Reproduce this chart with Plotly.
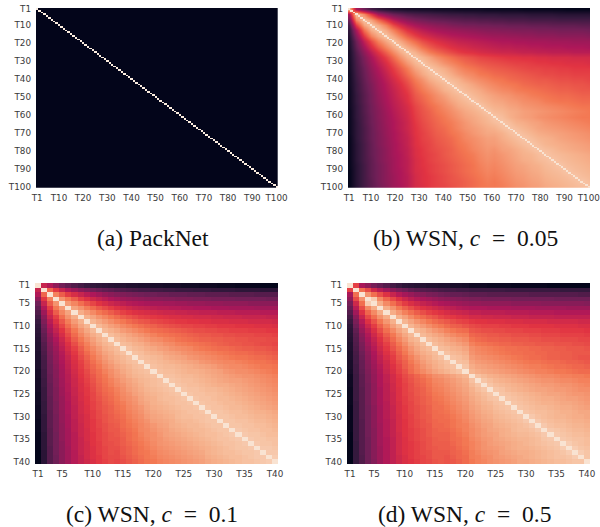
import plotly.graph_objects as go

W, H = 600, 527
ROCKET = [[0, "#03051a"], [1/7, "#35193e"], [2/7, "#701f57"], [3/7, "#ad1759"],
          [4/7, "#e13342"], [5/7, "#f37651"], [6/7, "#f6b48f"], [1, "#faebdd"]]
DIAG = 98

tasks_a = list(range(1, 101))
ticks_100 = [1, 10, 20, 30, 40, 50, 60, 70, 80, 90, 100]
tasks_40 = list(range(1, 41))
ticks_40 = [1, 5, 10, 15, 20, 25, 30, 35, 40]
tasks_b = list(range(1, 101, 3))

SP = "&nbsp;&nbsp;"
captions = ["(a) PackNet", f"(b) WSN, <i>c</i>{SP}={SP}0.05", f"(c) WSN, <i>c</i>{SP}={SP}0.1", f"(d) WSN, <i>c</i>{SP}={SP}0.5"]

# panel (b): overlap below the diagonal, one list per sampled task (T1, T4, ... T97)
b_cols = [
 [42,28,18,13,10,8,7,6,6,5,5,4,4,4,3,3,3,3,2,2,2,2,2,1,1,1,1,1,1,0,0,0,0],
 [75,58,42,34,28,25,22,20,19,18,17,16,15,15,14,14,13,13,13,12,12,12,12,11,11,11,11,10,10,10,10,10],
 [82,70,58,48,41,36,32,30,28,27,26,25,24,23,23,22,22,21,21,20,20,20,19,19,19,19,18,18,18,18,18],
 [84,74,62,54,47,42,39,37,35,34,32,31,30,30,29,29,28,28,27,27,27,26,26,26,25,25,25,25,24,24],
 [83,74,65,57,51,47,44,42,40,39,38,37,36,35,34,34,33,33,32,32,32,31,31,31,30,30,30,30,29],
 [83,75,67,60,55,52,49,47,45,44,43,42,41,40,39,39,38,38,37,37,36,36,36,35,35,35,35,34],
 [83,76,69,63,59,56,53,51,49,48,47,46,45,44,43,43,42,42,41,41,41,40,40,40,39,39,39],
 [84,78,71,66,62,59,56,54,53,51,50,49,48,47,47,46,46,45,45,44,44,44,43,43,43,42],
 [85,79,73,69,65,62,59,57,56,54,53,52,51,51,50,49,49,48,48,47,47,47,46,46,46],
 [86,82,77,73,70,67,65,63,61,60,59,58,57,57,56,56,55,55,54,54,54,53,53,53],
 [86,83,78,75,72,69,67,65,64,63,62,61,60,60,59,58,58,57,57,56,56,56,55],
 [87,84,80,76,73,71,69,67,66,65,64,63,62,61,61,60,60,59,59,58,58,58],
 [87,84,80,77,75,72,71,69,68,67,66,65,64,63,62,62,61,61,60,60,60],
 [87,85,81,78,76,74,72,71,69,68,67,66,65,65,64,63,63,62,62,61],
 [87,85,82,79,77,75,73,72,71,69,68,67,67,66,65,65,64,64,63],
 [87,85,83,80,78,76,75,73,72,71,70,69,68,67,67,66,65,65],
 [87,85,83,81,79,78,76,75,73,72,71,70,69,69,68,67,67],
 [87,85,83,82,80,79,77,76,75,73,72,71,71,70,69,69],
 [87,85,84,82,81,79,78,77,76,75,74,73,72,71,71],
 [87,86,84,83,81,80,79,78,77,76,75,74,73,72],
 [88,85,83,81,80,78,77,76,75,74,73,72,72],
 [88,85,84,82,81,79,78,77,76,75,74,73],
 [88,86,84,82,81,80,79,78,77,76,75],
 [88,86,84,83,82,81,80,79,78,77],
 [88,86,85,84,82,81,80,79,78],
 [88,86,85,84,83,82,81,80],
 [88,87,85,84,83,82,81],
 [88,87,86,85,84,83],
 [88,87,86,85,84],
 [88,87,86,85],
 [88,87,86],
 [88,87],
 [88],
]

c_cols = [
 [50,44,36,29,25,21,18,15,13,12,11,10,9,9,8,8,7,7,6,6,5,5,5,4,4,4,3,3,3,2,2,2,1,1,1,1,0,0,0],
 [68,58,50,44,39,35,32,29,27,25,24,22,21,20,19,18,18,17,17,16,16,15,15,15,14,14,14,13,13,13,13,12,12,12,12,11,11,11],
 [74,66,59,54,50,46,43,40,37,35,33,32,31,30,29,28,28,27,27,26,26,26,25,25,25,24,24,24,24,23,23,23,23,22,22,22,22],
 [78,72,66,60,56,52,49,46,43,41,39,38,37,36,35,34,34,33,33,32,32,32,31,31,31,30,30,30,30,29,29,29,29,29,28,28],
 [80,75,70,65,61,57,54,51,49,47,45,44,43,42,41,41,40,40,39,39,38,38,38,37,37,37,36,36,36,36,35,35,35,35,35],
 [82,78,73,69,65,62,59,56,54,52,50,49,48,47,46,46,45,45,44,44,43,43,43,42,42,42,41,41,41,41,40,40,40,40],
 [84,80,76,72,69,66,63,60,58,56,55,54,53,52,51,51,50,50,49,49,48,48,48,47,47,47,46,46,46,46,45,45,45],
 [85,82,78,75,72,69,66,64,62,60,59,58,57,56,55,55,54,54,53,53,53,52,52,51,51,51,50,50,50,50,49,49],
 [86,83,80,77,74,72,69,67,65,64,62,61,60,59,58,58,57,57,56,56,55,55,55,54,54,54,53,53,53,53,52],
 [87,84,81,79,76,74,72,70,68,67,65,64,63,62,61,61,60,60,59,59,58,58,58,57,57,57,56,56,56,55],
 [87,85,83,80,78,76,74,72,70,69,68,67,66,65,64,63,63,62,62,61,61,60,60,60,59,59,59,58,58],
 [88,86,84,82,80,78,76,74,72,71,70,69,68,67,66,65,65,64,64,63,63,62,62,62,61,61,61,60],
 [88,86,84,83,81,79,77,76,74,73,71,70,69,68,67,67,66,66,65,65,64,64,63,63,63,62,62],
 [88,87,85,84,82,80,79,77,76,74,73,72,71,70,69,68,67,66,65,65,64,64,63,62,62,61],
 [89,87,86,84,83,81,80,78,77,76,75,73,72,71,70,69,69,68,67,66,66,65,65,64,63],
 [89,88,86,85,84,82,81,80,78,77,76,75,74,73,72,71,70,69,69,68,67,67,66,65],
 [89,88,87,86,84,83,82,81,79,78,77,76,75,74,73,72,71,71,70,69,69,68,67],
 [89,88,87,86,85,84,83,82,81,79,78,77,76,75,75,74,73,72,71,71,70,69],
 [89,88,87,87,86,85,84,83,82,81,80,78,77,76,76,75,74,73,72,72,71],
 [89,88,88,87,86,85,85,84,83,82,81,79,78,77,77,76,75,74,73,72],
 [89,89,88,87,87,86,85,84,83,82,81,80,79,78,78,77,76,75,74],
 [90,89,88,88,87,86,85,84,83,82,81,81,80,79,78,77,76,75],
 [90,89,88,88,87,86,85,84,84,83,82,81,80,79,78,77,76],
 [90,89,89,88,87,87,86,85,84,83,82,81,80,79,78,77],
 [90,89,89,88,88,87,86,85,84,83,82,81,80,79,78],
 [90,89,89,88,87,87,86,85,84,83,82,81,80,79],
 [90,89,89,88,87,87,86,85,84,83,82,81,80],
 [90,89,89,88,87,87,86,85,84,83,82,81],
 [90,90,89,88,88,87,86,85,85,84,83],
 [90,90,89,88,88,87,86,86,85,84],
 [90,90,89,89,88,87,87,86,85],
 [90,90,89,89,88,88,87,86],
 [91,90,89,89,88,88,87],
 [91,90,90,89,88,88],
 [91,90,90,89,89],
 [91,90,90,89],
 [91,91,90],
 [91,91],
 [92],
]

d_cols = [
 [60,42,36,30,26,22,18,15,12,11,10,9,8,8,7,7,6,6,5,3,3,3,2,2,2,2,1,1,1,1,1,1,0,0,0,0,0,0,0],
 [70,62,52,46,40,35,31,28,25,23,22,21,20,19,18,18,17,17,16,16,16,16,16,16,15,15,15,15,15,15,15,15,15,14,14,14,14,14],
 [78,70,63,56,50,45,41,38,35,33,31,30,28,27,26,26,25,24,24,24,23,23,23,23,23,23,23,22,22,22,22,22,22,22,22,21,21],
 [92,76,68,62,56,51,47,44,42,40,38,36,35,34,33,32,31,31,30,30,30,30,30,29,29,29,29,29,29,29,28,28,28,28,28,28],
 [84,76,70,64,59,55,52,49,47,45,43,42,40,39,38,37,37,36,36,36,36,36,35,35,35,35,35,34,34,34,34,34,34,34,33],
 [84,78,72,67,63,59,56,54,52,50,48,47,45,44,43,43,43,42,42,42,42,41,41,41,41,40,40,40,40,40,39,39,39,39],
 [84,79,74,70,66,63,60,58,56,54,52,51,50,48,48,47,47,47,47,46,46,46,46,45,45,45,45,44,44,44,44,44,44],
 [85,81,76,72,69,66,64,61,59,58,56,55,53,53,52,52,51,51,51,50,50,50,49,49,49,49,48,48,48,48,48,48],
 [86,82,78,75,72,69,67,65,63,61,60,58,57,57,56,56,56,55,55,55,54,54,54,54,53,53,53,53,53,52,52],
 [86,83,80,77,74,72,69,67,66,64,62,61,60,60,60,59,59,58,58,58,57,57,57,57,56,56,56,56,55,55],
 [87,85,82,79,77,74,72,70,69,65,64,63,63,62,62,61,61,61,60,60,60,59,59,59,58,58,58,58,57],
 [87,85,83,81,78,76,74,73,68,67,66,65,65,64,64,63,63,63,62,62,61,61,61,60,60,60,60,59],
 [88,86,84,82,80,78,76,71,69,68,67,67,66,66,65,65,65,64,64,63,63,63,62,62,62,61,61],
 [88,86,84,83,81,79,74,72,71,70,69,68,68,67,67,66,66,65,65,65,64,64,64,63,63,62],
 [88,87,85,84,82,77,75,74,73,72,71,70,70,69,69,68,68,67,67,66,66,65,65,65,64],
 [89,87,86,84,78,76,75,74,73,72,71,70,70,69,69,68,68,67,67,66,66,65,65,65],
 [89,88,86,80,78,77,76,75,74,73,72,71,70,69,69,68,67,67,66,66,65,64,64],
 [89,88,82,80,79,78,77,76,75,74,73,72,71,71,70,69,69,68,67,67,66,65],
 [90,84,82,81,80,79,78,77,76,75,74,73,73,72,71,70,70,69,68,68,67],
 [86,84,83,82,81,80,79,78,77,76,75,74,74,73,72,72,71,70,69,69],
 [89,87,85,84,83,82,81,80,79,78,77,76,76,75,74,74,73,73,72],
 [90,88,86,85,84,83,82,81,80,79,78,78,77,76,76,75,74,74],
 [90,88,87,86,85,84,83,82,81,80,80,79,78,78,77,76,75],
 [90,89,87,86,85,84,83,82,82,81,80,80,79,78,77,77],
 [90,89,88,87,86,85,84,83,82,82,81,80,79,79,78],
 [90,89,88,87,86,85,84,84,83,82,81,81,80,79],
 [90,89,88,87,86,85,85,84,83,83,82,81,80],
 [90,89,88,87,87,86,85,84,84,83,82,81],
 [90,89,88,88,87,86,85,85,84,83,83],
 [91,89,88,87,86,86,85,84,84,83],
 [91,89,88,87,87,86,85,85,84],
 [91,89,88,88,87,86,86,85],
 [91,90,89,88,87,87,86],
 [91,90,89,88,88,87],
 [91,90,89,89,88],
 [92,90,89,88],
 [92,90,89],
 [92,90],
 [90],
]


def symmetric(cols, diag=DIAG):
    n = len(cols) + 1
    z = [[diag] * n for _ in range(n)]
    for j, col in enumerate(cols):
        assert len(col) == n - 1 - j, (j, len(col))
        for k, v in enumerate(col):
            z[j + 1 + k][j] = v
            z[j][j + 1 + k] = v
    return z


z_a = [[DIAG + 2 if x == y else 0 for x in tasks_a] for y in tasks_a]
z_b_line = [[DIAG if x == y else None for x in tasks_a] for y in tasks_a]
z_b = symmetric(b_cols, 90)
z_c = symmetric(c_cols)
z_d = symmetric(d_cols)

# pixel boxes: left, right, top, bottom
boxes = [(36, 277.7, 8, 187.7), (348, 590, 8, 187.7), (35, 278, 283, 464), (347, 590, 283, 464)]
cap_pos = [(153, 238), (465, 238), (152, 514), (464, 514)]
tick_sets = [ticks_100, ticks_100, ticks_40, ticks_40]
ranges = [100, 100, 40, 40]

fig = go.Figure()


def heat(x, y, z, idx, smooth=False):
    fig.add_trace(go.Heatmap(x=x, y=y, z=z, zmin=0, zmax=100, colorscale=ROCKET, showscale=False,
                             zsmooth="best" if smooth else False, hoverongaps=False,
                             xaxis=f"x{idx}", yaxis=f"y{idx}"))


heat(tasks_a, tasks_a, z_a, 1)
heat(tasks_b, tasks_b, z_b, 2, smooth=True)
heat(tasks_a, tasks_a, z_b_line, 2)
heat(tasks_40, tasks_40, z_c, 3)
heat(tasks_40, tasks_40, z_d, 4)

layout = dict(width=W, height=H, margin=dict(l=0, r=0, t=0, b=0, pad=0, autoexpand=False), paper_bgcolor="white",
              plot_bgcolor="white", showlegend=False)
font_tick = dict(family="DejaVu Sans", size=8.8, color="#3a3a3a")
for i, (l, r, t, b) in enumerate(boxes):
    s = i + 1
    ticks = tick_sets[i]
    layout[f"xaxis{s}"] = dict(domain=[l / W, r / W], range=[0.5, ranges[i] + 0.5], tickmode="array",
                               tickvals=ticks, ticktext=[f"T{v}" for v in ticks], ticks="", showgrid=False,
                               zeroline=False, showline=False, tickfont=font_tick, tickangle=0, automargin=False,
                               anchor=f"y{s}", ticklabelstandoff=3, ticklabeloverflow="allow")
    layout[f"yaxis{s}"] = dict(domain=[1 - b / H, 1 - t / H], range=[ranges[i] + 0.5, 0.5], tickmode="array",
                               tickvals=ticks, ticktext=[f"T{v}" for v in ticks], ticks="", showgrid=False,
                               zeroline=False, showline=False, tickfont=font_tick, automargin=False,
                               anchor=f"x{s}", ticklabelstandoff=4, ticklabeloverflow="allow")

layout["annotations"] = [
    dict(text=txt, x=px / W, y=1 - py / H, xref="paper", yref="paper", showarrow=False,
         xanchor="center", yanchor="middle",
         font=dict(family="Liberation Serif", size=23.5, color="#111111"))
    for txt, (px, py) in zip(captions, cap_pos)
]
fig.update_layout(**layout)
fig.write_html("out.html", config={"displayModeBar": False}, post_script="document.body.style.margin='0';")
